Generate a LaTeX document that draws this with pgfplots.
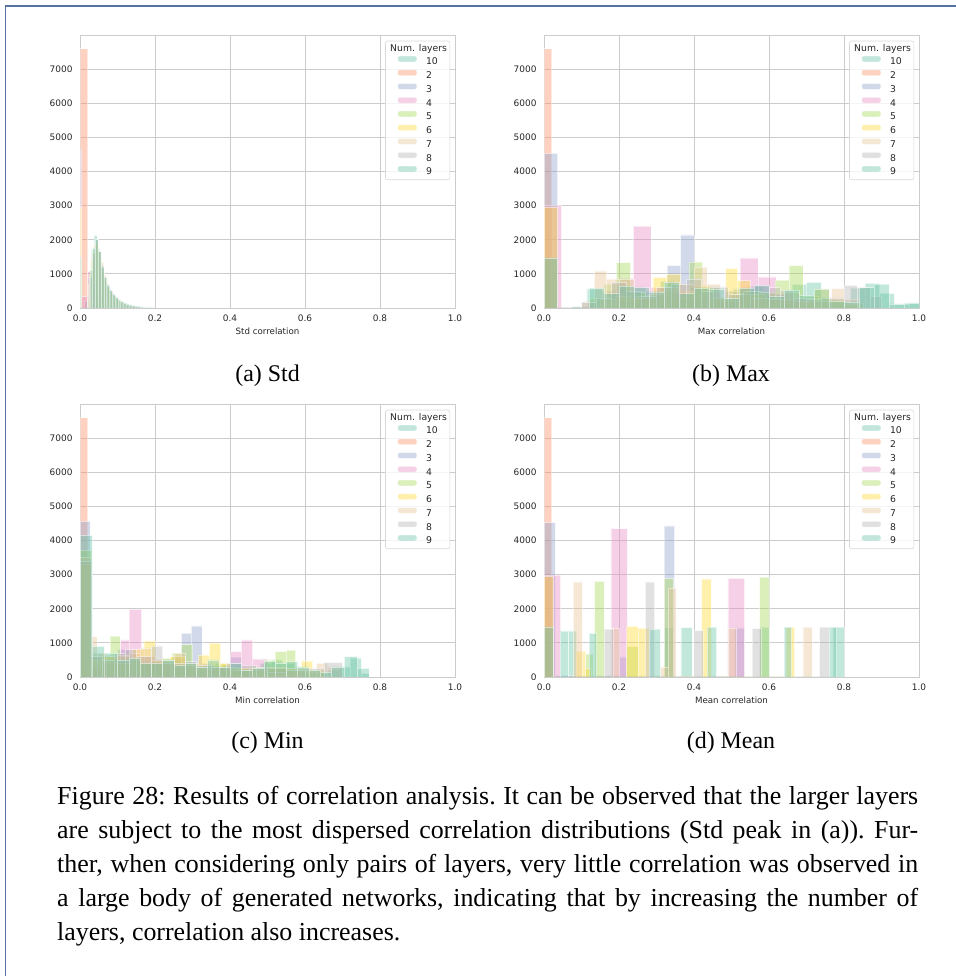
\documentclass[border=0pt]{standalone}
\usepackage{fontspec}
\setmainfont{Liberation Serif}
\newfontfamily\dejavu{DejaVu Sans}
\usepackage{pgfplots}
\pgfplotsset{compat=1.18}

\definecolor{sA}{HTML}{66C2A5}
\definecolor{sB}{HTML}{FC8D62}
\definecolor{sC}{HTML}{8DA0CB}
\definecolor{sD}{HTML}{E78AC3}
\definecolor{sE}{HTML}{A6D854}
\definecolor{sF}{HTML}{FFD92F}
\definecolor{sG}{HTML}{E5C494}
\definecolor{sH}{HTML}{B3B3B3}
\definecolor{frameblue}{RGB}{84,115,160}

\pgfplotsset{
  corr/.style={
    scale only axis, width=375bp, height=273bp,
    xmin=0, xmax=1, ymin=0, ymax=8000,
    xtick={0,0.2,0.4,0.6,0.8,1}, ytick={0,1000,...,7000},
    scaled ticks=false,
    grid=major,
    major grid style={draw=black!20, line width=0.8bp},
    axis line style={draw=black!20, line width=0.8bp},
    major tick length=0pt, tick style={draw=none},
    /pgf/number format/assume math mode=true,
    ticklabel style={font=\dejavu\fontsize{9}{10}\selectfont, text=black!85},
    x tick label style={/pgf/number format/fixed, /pgf/number format/fixed zerofill,
      /pgf/number format/precision=1, yshift=-3.7bp},
    y tick label style={/pgf/number format/1000 sep={}, xshift=-4bp},
    xlabel style={font=\dejavu\fontsize{8.7}{10}\selectfont, text=black!85,
      at={(axis description cs:0.5,-0.098)}, anchor=base},
    legend style={at={(0.987,0.979)}, anchor=north east, draw=black!15, fill=white,
      fill opacity=0.8, text opacity=1, rounded corners=2bp, line width=0.6bp,
      font=\dejavu\fontsize{9.3}{10}\selectfont, text=black!85,
      inner xsep=12bp, inner ysep=3bp, row sep=2.8bp, column sep=9bp,
      nodes={inner sep=0pt, text height=7bp, text depth=2bp}},
    legend cell align=left,
  },
  hb/.style={ybar interval, fill=#1, fill opacity=0.4, draw=white, draw opacity=0.5,
    line width=0.5bp,
    legend image code/.code={\fill[fill=#1, fill opacity=0.4] (0bp,0.5bp) rectangle (19bp,6.2bp);}},
}

\newcommand{\legtitle}{\addlegendimage{empty legend}\addlegendentry{\makebox[0pt][l]{\hspace{-36.3bp}Num. layers}}}

\begin{document}
\begin{tikzpicture}
\useasboundingbox (0,0) rectangle (956bp,976bp);
\draw[frameblue, line width=1.2bp] (5.5bp,0) -- (5.5bp,970bp) -- (956bp,970bp);

% (a) Std
\begin{axis}[corr, at={(80bp,668bp)}, anchor=south west, xlabel={Std correlation}]
\legtitle
\addplot[hb=sA] coordinates {(0,1480)(0.0045,0)(0.0225,850)(0.03,1700)(0.0375,2130)(0.045,1750)(0.0525,1320)(0.06,980)(0.0675,740)(0.075,560)(0.0825,430)(0.09,330)(0.0975,260)(0.105,200)(0.1125,160)(0.12,125)(0.1275,100)(0.135,80)(0.1425,60)(0.15,45)(0.1575,35)(0.165,25)(0.1725,18)(0.18,12)(0.1875,8)(0.195,4)(0.2025,0)};
\addlegendentry{10}
\addplot[hb=sB] coordinates {(0,7600)(0.02,0)};
\addlegendentry{2}
\addplot[hb=sC] coordinates {(0,4660)(0.004,0)(0.012,200)(0.02,350)(0.028,0)};
\addlegendentry{3}
\addplot[hb=sD] coordinates {(0,3050)(0.004,330)(0.02,1065)(0.03,700)(0.04,300)(0.05,100)(0.06,0)};
\addlegendentry{4}
\addplot[hb=sE] coordinates {(0.02,300)(0.028,1400)(0.036,1850)(0.044,1700)(0.052,1250)(0.06,900)(0.068,650)(0.076,480)(0.084,360)(0.092,270)(0.1,200)(0.108,150)(0.116,110)(0.124,80)(0.132,60)(0.14,40)(0.148,30)(0.156,20)(0.164,12)(0.172,8)(0.18,0)};
\addlegendentry{5}
\addplot[hb=sF] coordinates {(0,2950)(0.0045,0)(0.024,1000)(0.032,1650)(0.04,1950)(0.048,1600)(0.056,1150)(0.064,850)(0.072,600)(0.08,450)(0.088,330)(0.096,250)(0.104,190)(0.112,140)(0.12,100)(0.128,75)(0.136,55)(0.144,40)(0.152,28)(0.16,18)(0.168,10)(0.176,0)};
\addlegendentry{6}
\addplot[hb=sG] coordinates {(0.022,700)(0.03,1500)(0.038,1900)(0.046,1700)(0.054,1350)(0.062,950)(0.07,700)(0.078,520)(0.086,400)(0.094,300)(0.102,230)(0.11,170)(0.118,130)(0.126,95)(0.134,70)(0.142,50)(0.15,35)(0.158,25)(0.166,15)(0.174,0)};
\addlegendentry{7}
\addplot[hb=sH] coordinates {(0.024,900)(0.032,1600)(0.04,2000)(0.048,1650)(0.056,1250)(0.064,900)(0.072,650)(0.08,480)(0.088,370)(0.096,280)(0.104,210)(0.112,160)(0.12,120)(0.128,90)(0.136,65)(0.144,45)(0.152,30)(0.16,20)(0.168,12)(0.176,0)};
\addlegendentry{8}
\addplot[hb=sA] coordinates {(0,1480)(0.0045,0)(0.026,1100)(0.0335,1750)(0.041,2000)(0.0485,1650)(0.056,1200)(0.0635,900)(0.071,680)(0.0785,520)(0.086,400)(0.0935,310)(0.101,240)(0.1085,190)(0.116,150)(0.1235,115)(0.131,90)(0.1385,70)(0.146,55)(0.1535,40)(0.161,30)(0.1685,20)(0.176,14)(0.1835,9)(0.191,5)(0.1985,0)};
\addlegendentry{9}
\end{axis}

% (b) Max
\begin{axis}[corr, at={(544bp,668bp)}, anchor=south west, xlabel={Max correlation}]
\legtitle
\addplot[hb=sA] coordinates {(0,1470)(0.036,0)(0.075,40)(0.114,560)(0.154,450)(0.193,660)(0.232,620)(0.271,480)(0.31,780)(0.349,400)(0.388,600)(0.427,620)(0.466,270)(0.505,560)(0.544,640)(0.583,340)(0.622,200)(0.661,690)(0.7,750)(0.739,230)(0.778,180)(0.817,590)(0.856,720)(0.895,430)(0.934,100)(0.973,150)(1.012,0)};
\addlegendentry{10}
\addplot[hb=sB] coordinates {(0,7600)(0.02,0)};
\addlegendentry{2}
\addplot[hb=sC] coordinates {(0,4530)(0.036,0)(0.2,200)(0.25,300)(0.29,500)(0.328,1240)(0.364,2140)(0.4,600)(0.44,300)(0.48,500)(0.52,600)(0.56,650)(0.6,400)(0.64,200)(0.68,0)};
\addlegendentry{3}
\addplot[hb=sD] coordinates {(0,3000)(0.047,0)(0.167,500)(0.2,870)(0.238,2400)(0.285,600)(0.33,500)(0.38,300)(0.43,450)(0.47,200)(0.523,1470)(0.57,910)(0.618,400)(0.665,200)(0.71,0)};
\addlegendentry{4}
\addplot[hb=sE] coordinates {(0.12,300)(0.16,700)(0.193,1330)(0.231,450)(0.27,300)(0.31,500)(0.348,300)(0.386,1350)(0.423,600)(0.46,250)(0.5,400)(0.54,500)(0.58,450)(0.616,820)(0.653,1240)(0.69,350)(0.73,300)(0.77,200)(0.81,150)(0.85,0)};
\addlegendentry{5}
\addplot[hb=sF] coordinates {(0,2950)(0.036,0)(0.15,250)(0.19,350)(0.23,300)(0.29,900)(0.327,1000)(0.364,500)(0.4,650)(0.44,300)(0.484,1160)(0.516,800)(0.55,400)(0.59,300)(0.63,250)(0.67,200)(0.72,560)(0.76,250)(0.8,100)(0.84,0)};
\addlegendentry{6}
\addplot[hb=sG] coordinates {(0.1,180)(0.134,1085)(0.167,850)(0.2,850)(0.24,350)(0.28,400)(0.32,600)(0.36,700)(0.4,1200)(0.434,700)(0.47,300)(0.51,400)(0.55,300)(0.6,250)(0.64,450)(0.68,300)(0.72,200)(0.767,570)(0.8,250)(0.84,0)};
\addlegendentry{7}
\addplot[hb=sH] coordinates {(0.1,180)(0.14,300)(0.18,750)(0.22,500)(0.26,350)(0.3,600)(0.34,700)(0.38,850)(0.42,500)(0.45,620)(0.49,400)(0.53,500)(0.57,450)(0.6,600)(0.63,530)(0.665,300)(0.7,250)(0.74,300)(0.8,660)(0.834,600)(0.87,350)(0.9,0)};
\addlegendentry{8}
\addplot[hb=sA] coordinates {(0,1470)(0.036,0)(0.12,580)(0.16,420)(0.2,640)(0.24,600)(0.28,470)(0.32,750)(0.36,420)(0.4,590)(0.44,560)(0.48,300)(0.52,580)(0.56,660)(0.6,330)(0.64,520)(0.68,370)(0.72,550)(0.76,210)(0.8,180)(0.84,600)(0.88,700)(0.92,120)(0.96,140)(1.0,0)};
\addlegendentry{9}
\end{axis}

% (c) Min
\begin{axis}[corr, at={(80bp,299bp)}, anchor=south west, xlabel={Min correlation}]
\legtitle
\addplot[hb=sA] coordinates {(0,3400)(0.03,700)(0.06,650)(0.09,500)(0.12,550)(0.15,450)(0.18,350)(0.21,380)(0.24,500)(0.27,350)(0.3,300)(0.33,350)(0.36,300)(0.39,250)(0.42,200)(0.45,200)(0.48,400)(0.51,500)(0.54,400)(0.57,300)(0.6,100)(0.63,100)(0.66,200)(0.69,300)(0.72,560)(0.75,100)(0.77,0)};
\addlegendentry{10}
\addplot[hb=sB] coordinates {(0,7600)(0.02,0)};
\addlegendentry{2}
\addplot[hb=sC] coordinates {(0,4560)(0.027,300)(0.055,400)(0.08,500)(0.1,810)(0.13,500)(0.16,400)(0.19,450)(0.22,400)(0.245,600)(0.27,1280)(0.297,1495)(0.325,400)(0.35,300)(0.38,350)(0.4,580)(0.43,200)(0.46,0)};
\addlegendentry{3}
\addplot[hb=sD] coordinates {(0,3400)(0.032,300)(0.07,400)(0.107,1085)(0.131,1985)(0.164,600)(0.2,400)(0.25,300)(0.3,200)(0.35,300)(0.4,740)(0.43,1085)(0.46,530)(0.5,300)(0.55,150)(0.6,0)};
\addlegendentry{4}
\addplot[hb=sE] coordinates {(0,3700)(0.031,600)(0.055,650)(0.08,1200)(0.107,600)(0.13,500)(0.16,400)(0.19,450)(0.22,550)(0.245,700)(0.27,950)(0.3,300)(0.33,250)(0.36,400)(0.39,300)(0.42,250)(0.45,300)(0.49,500)(0.52,740)(0.55,790)(0.575,200)(0.6,150)(0.65,0)};
\addlegendentry{5}
\addplot[hb=sF] coordinates {(0,3300)(0.03,500)(0.06,600)(0.1,400)(0.14,800)(0.17,1055)(0.2,500)(0.24,600)(0.28,400)(0.315,650)(0.345,990)(0.375,400)(0.4,250)(0.45,200)(0.5,300)(0.55,250)(0.59,470)(0.62,200)(0.65,0)};
\addlegendentry{6}
\addplot[hb=sG] coordinates {(0,3500)(0.03,1180)(0.045,700)(0.07,600)(0.1,650)(0.13,700)(0.16,850)(0.19,500)(0.22,400)(0.25,700)(0.28,350)(0.31,300)(0.35,300)(0.4,200)(0.45,250)(0.5,150)(0.55,250)(0.6,200)(0.63,400)(0.66,300)(0.7,0)};
\addlegendentry{7}
\addplot[hb=sH] coordinates {(0,3400)(0.03,600)(0.06,500)(0.09,700)(0.12,800)(0.15,600)(0.19,910)(0.22,500)(0.25,400)(0.28,450)(0.31,350)(0.35,300)(0.39,400)(0.43,350)(0.47,300)(0.5,250)(0.55,200)(0.6,250)(0.65,420)(0.7,0)};
\addlegendentry{8}
\addplot[hb=sA] coordinates {(0,4150)(0.033,900)(0.065,700)(0.1,500)(0.13,550)(0.16,400)(0.19,400)(0.22,500)(0.25,350)(0.28,400)(0.31,300)(0.34,500)(0.37,300)(0.4,400)(0.43,200)(0.46,250)(0.49,450)(0.52,400)(0.55,450)(0.58,300)(0.61,200)(0.64,150)(0.67,300)(0.705,600)(0.74,250)(0.77,0)};
\addlegendentry{9}
\end{axis}

% (d) Mean
\begin{axis}[corr, at={(544bp,299bp)}, anchor=south west, xlabel={Mean correlation}]
\legtitle
\addplot[hb=sA] coordinates {(0,1470)(0.025,0)(0.065,1350)(0.087,0)(0.32,1450)(0.345,0)(0.365,1450)(0.395,0)(0.575,1465)(0.6,0)(0.77,1465)(0.8,0)};
\addlegendentry{10}
\addplot[hb=sB] coordinates {(0,7600)(0.02,0)};
\addlegendentry{2}
\addplot[hb=sC] coordinates {(0,4525)(0.03,40)(0.2,590)(0.222,30)(0.32,4430)(0.348,20)(0.508,1440)(0.535,0)};
\addlegendentry{3}
\addplot[hb=sD] coordinates {(0,2990)(0.044,0)(0.178,4350)(0.222,0)(0.49,2890)(0.535,0)};
\addlegendentry{4}
\addplot[hb=sE] coordinates {(0.11,675)(0.13,0)(0.135,2805)(0.16,0)(0.22,890)(0.25,0)(0.32,2885)(0.345,0)(0.575,2930)(0.6,0)};
\addlegendentry{5}
\addplot[hb=sF] coordinates {(0,2940)(0.025,0)(0.085,760)(0.11,250)(0.125,0)(0.22,1485)(0.25,1430)(0.28,0)(0.42,2875)(0.446,0)(0.645,1460)(0.668,0)};
\addlegendentry{6}
\addplot[hb=sG] coordinates {(0.078,2785)(0.102,0)(0.18,1420)(0.2,0)(0.31,300)(0.33,2610)(0.352,0)(0.49,1430)(0.512,0)(0.69,1460)(0.715,0)};
\addlegendentry{7}
\addplot[hb=sH] coordinates {(0.16,1400)(0.185,0)(0.27,2785)(0.295,0)(0.4,1360)(0.425,0)(0.555,1420)(0.58,0)(0.735,1465)(0.76,0)};
\addlegendentry{8}
\addplot[hb=sA] coordinates {(0,1470)(0.025,0)(0.043,1350)(0.065,0)(0.12,1280)(0.14,0)(0.28,1400)(0.31,0)(0.435,1460)(0.46,0)(0.64,1465)(0.66,0)(0.76,1465)(0.78,0)};
\addlegendentry{9}
\end{axis}

\node[anchor=base, font=\fontsize{24}{28}\selectfont] at (267.5bp,594bp) {(a) Std};
\node[anchor=base, font=\fontsize{24}{28}\selectfont] at (731bp,594bp) {(b) Max};
\node[anchor=base, font=\fontsize{24}{28}\selectfont] at (267.5bp,227bp) {(c) Min};
\node[anchor=base, font=\fontsize{24}{28}\selectfont] at (731bp,227bp) {(d) Mean};

\node[anchor=base west, inner sep=0pt, text width=861bp, align=justify,
  font=\fontsize{26}{34}\selectfont\frenchspacing] at (57bp,171bp)
  {Figure 28: Results of correlation analysis. It can be observed that the larger layers\linebreak
   are subject to the most dispersed correlation distributions (Std peak in (a)). Fur-\linebreak
   ther, when considering only pairs of layers, very little correlation was observed in\linebreak
   a large body of generated networks, indicating that by increasing the number of\linebreak
   layers, correlation also increases.};
\end{tikzpicture}
\end{document}
